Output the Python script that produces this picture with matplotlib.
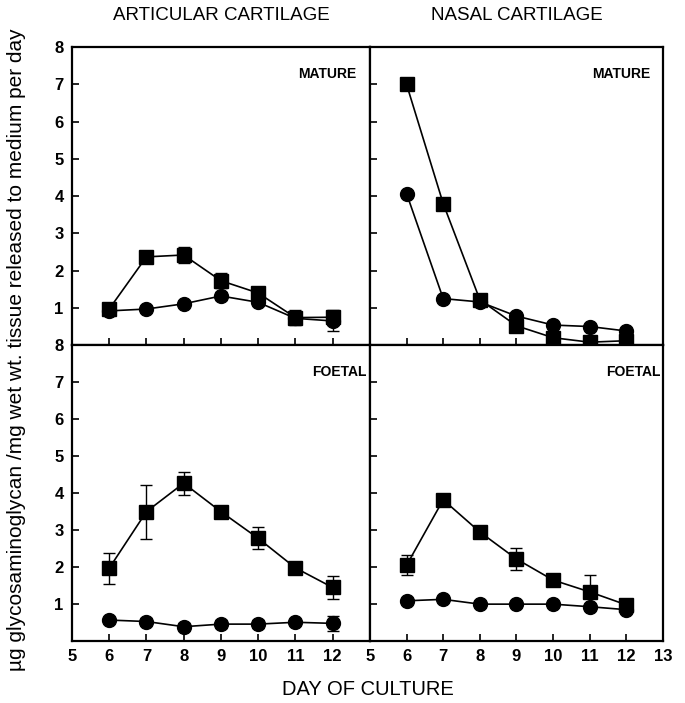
import matplotlib
matplotlib.use("Agg")
import matplotlib.pyplot as plt

plt.rcParams['font.family'] = ['Liberation Sans', 'DejaVu Sans']

# day of culture
days = [6, 7, 8, 9, 10, 11, 12]

# articular cartilage, mature
art_mat_sq = [0.97, 2.37, 2.42, 1.73, 1.40, 0.74, 0.75]
art_mat_sq_err = [0.05, 0.06, 0.22, 0.20, 0.12, 0.20, 0.20]
art_mat_ci = [0.92, 0.97, 1.11, 1.32, 1.15, 0.72, 0.65]
art_mat_ci_err = [0.0, 0.0, 0.0, 0.10, 0.0, 0.0, 0.28]

# nasal cartilage, mature
nas_mat_sq = [7.0, 3.8, 1.22, 0.52, 0.20, 0.08, 0.12]
nas_mat_ci = [4.07, 1.25, 1.16, 0.78, 0.54, 0.50, 0.38]

# articular cartilage, foetal
art_foe_sq = [1.97, 3.50, 4.27, 3.50, 2.78, 1.98, 1.45]
art_foe_sq_err = [0.42, 0.73, 0.31, 0.08, 0.30, 0.08, 0.30]
art_foe_ci = [0.57, 0.53, 0.39, 0.46, 0.46, 0.51, 0.48]
art_foe_ci_err = [0.05, 0.10, 0.10, 0.10, 0.10, 0.05, 0.20]

# nasal cartilage, foetal
nas_foe_sq = [2.05, 3.82, 2.95, 2.22, 1.65, 1.33, 0.98]
nas_foe_sq_err = [0.27, 0.05, 0.12, 0.30, 0.05, 0.47, 0.08]
nas_foe_ci = [1.09, 1.13, 1.00, 1.00, 1.00, 0.93, 0.85]

fig = plt.figure(figsize=(6.85, 7.03), dpi=100)

L, M, R = 0.105, 0.540, 0.968
T, H, B = 0.933, 0.509, 0.088

ax_tl = fig.add_axes([L, H, M - L, T - H])
ax_tr = fig.add_axes([M, H, R - M, T - H])
ax_bl = fig.add_axes([L, B, M - L, H - B])
ax_br = fig.add_axes([M, B, R - M, H - B])

def draw(ax, sq, ci, sq_err=None, ci_err=None):
    ax.errorbar(days, ci, yerr=ci_err, color='black', marker='o', markersize=10,
                linewidth=1.2, capsize=4, elinewidth=1.0, capthick=1.0, zorder=3)
    ax.errorbar(days, sq, yerr=sq_err, color='black', marker='s', markersize=10,
                linewidth=1.2, capsize=4, elinewidth=1.0, capthick=1.0, zorder=4)

draw(ax_tl, art_mat_sq, art_mat_ci, art_mat_sq_err, art_mat_ci_err)
draw(ax_tr, nas_mat_sq, nas_mat_ci)
draw(ax_bl, art_foe_sq, art_foe_ci, art_foe_sq_err, art_foe_ci_err)
draw(ax_br, nas_foe_sq, nas_foe_ci, nas_foe_sq_err)

for ax in [ax_tl, ax_tr, ax_bl, ax_br]:
    ax.set_xlim(5, 13)
    ax.set_ylim(0, 8)
    ax.set_xticks(range(5, 14))
    ax.set_yticks(range(1, 9))
    ax.tick_params(direction='in', length=5, width=1.2, labelsize=12, pad=6)
    for spine in ax.spines.values():
        spine.set_linewidth(1.6)
    for lab in ax.get_xticklabels() + ax.get_yticklabels():
        lab.set_fontweight('bold')

for ax in [ax_tl, ax_tr]:
    ax.tick_params(labelbottom=False)
for ax in [ax_tr, ax_br]:
    ax.tick_params(labelleft=False)

ax_bl.set_xticks(range(5, 14))
ax_bl.set_xticklabels([str(d) for d in range(5, 13)] + [''], fontweight='bold')

ax_tl.text(0.955, 0.91, 'MATURE', transform=ax_tl.transAxes, ha='right', va='center',
           fontsize=10, fontweight='bold')
ax_tr.text(0.955, 0.91, 'MATURE', transform=ax_tr.transAxes, ha='right', va='center',
           fontsize=10, fontweight='bold')
ax_bl.text(0.99, 0.91, 'FOETAL', transform=ax_bl.transAxes, ha='right', va='center',
           fontsize=10, fontweight='bold')
ax_br.text(0.99, 0.91, 'FOETAL', transform=ax_br.transAxes, ha='right', va='center',
           fontsize=10, fontweight='bold')

fig.text((L + M) / 2, 0.978, 'ARTICULAR CARTILAGE', ha='center', va='center', fontsize=13.5)
fig.text((M + R) / 2, 0.978, 'NASAL CARTILAGE', ha='center', va='center', fontsize=13.5)
fig.text((L + R) / 2, 0.019, 'DAY OF CULTURE', ha='center', va='center', fontsize=14.5)
fig.text(0.024, 0.503,
         'µg glycosaminoglycan /mg wet wt. tissue released to medium per day',
         rotation=90, ha='center', va='center', fontsize=15)

fig.savefig('out.png', dpi=100)
